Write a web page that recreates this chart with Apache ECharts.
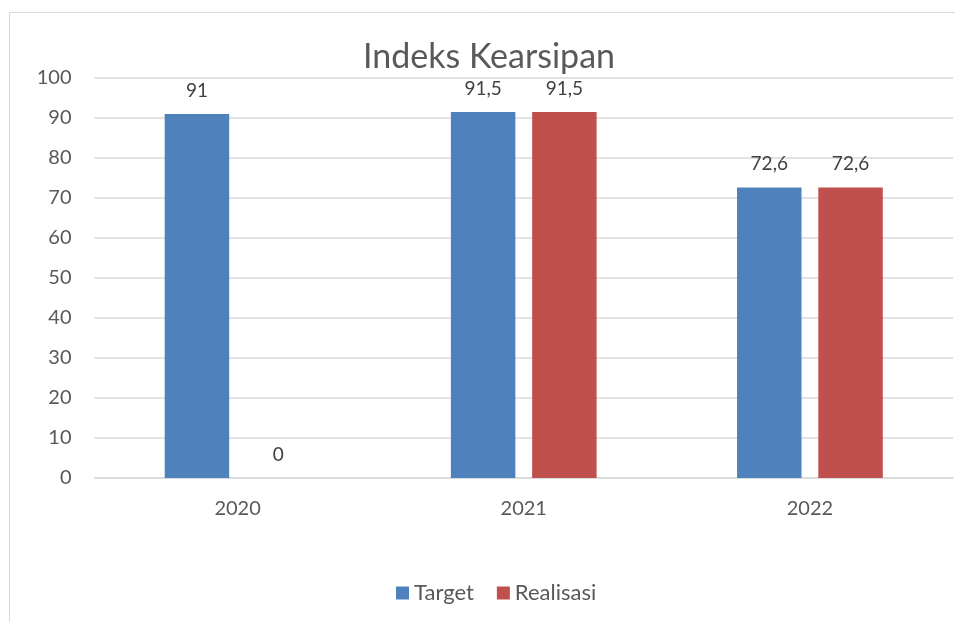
<!DOCTYPE html>
<html>
<head>
<meta charset="utf-8">
<script src="https://cdn.jsdelivr.net/npm/echarts@6/dist/echarts.min.js"></script>
<style>
  html, body { margin: 0; padding: 0; background: #fff; }
  #chart { width: 955px; height: 622px; }
</style>
</head>
<body>
<div id="chart"></div>
<script>
// Indeks Kearsipan: target vs realisasi per tahun
const years = ['2020', '2021', '2022'];
const targetValues = [91, 91.5, 72.6];
const realisasiValues = [0, 91.5, 72.6];
const yTicks = { min: 0, max: 100, interval: 10 };

const FONT = 'Lato, "Open Sans", sans-serif';
const fmt = p => String(p.value).replace('.', ',');

const chart = echarts.init(document.getElementById('chart'), null, { renderer: 'canvas' });

const labelStyle = {
  show: true,
  position: 'top',
  distance: 14,
  color: '#404040',
  fontFamily: FONT,
  fontSize: 19,
  formatter: fmt
};

chart.setOption({
  animation: false,
  backgroundColor: '#ffffff',
  title: {
    text: 'Indeks Kearsipan',
    left: 484,
    textAlign: 'center',
    top: 35,
    textStyle: { color: '#595959', fontFamily: FONT, fontWeight: 'normal', fontSize: 34 }
  },
  graphic: [{
    type: 'rect',
    silent: true,
    shape: { x: 9.5, y: 12.5, width: 960, height: 620 },
    style: { fill: 'none', stroke: '#D9D9D9', lineWidth: 1 }
  }],
  legend: {
    bottom: 13,
    left: 391,
    itemWidth: 13,
    itemHeight: 13,
    itemGap: 23,
    icon: 'rect',
    textStyle: { color: '#595959', fontFamily: FONT, fontSize: 22 },
    data: ['Target', 'Realisasi']
  },
  grid: { left: 94.5, right: 2, top: 78, bottom: 144, containLabel: false },
  xAxis: {
    type: 'category',
    data: years,
    axisLine: { show: true, lineStyle: { color: '#D9D9D9', width: 1.5 } },
    axisTick: { show: false },
    axisLabel: { color: '#595959', fontFamily: FONT, fontSize: 20, margin: 21 }
  },
  yAxis: {
    type: 'value',
    min: yTicks.min,
    max: yTicks.max,
    interval: yTicks.interval,
    axisLine: { show: false },
    axisTick: { show: false },
    splitLine: { lineStyle: { color: '#D9D9D9', width: 1.5 } },
    axisLabel: { color: '#595959', fontFamily: FONT, fontSize: 20, margin: 23 }
  },
  series: [
    {
      name: 'Target',
      type: 'bar',
      data: targetValues,
      barWidth: 64.5,
      barGap: '26%',
      itemStyle: { color: '#4F81BD' },
      label: labelStyle
    },
    {
      name: 'Realisasi',
      type: 'bar',
      data: realisasiValues,
      barWidth: 64.5,
      barGap: '26%',
      itemStyle: { color: '#C0504D' },
      label: labelStyle
    }
  ]
});
</script>
</body>
</html>
